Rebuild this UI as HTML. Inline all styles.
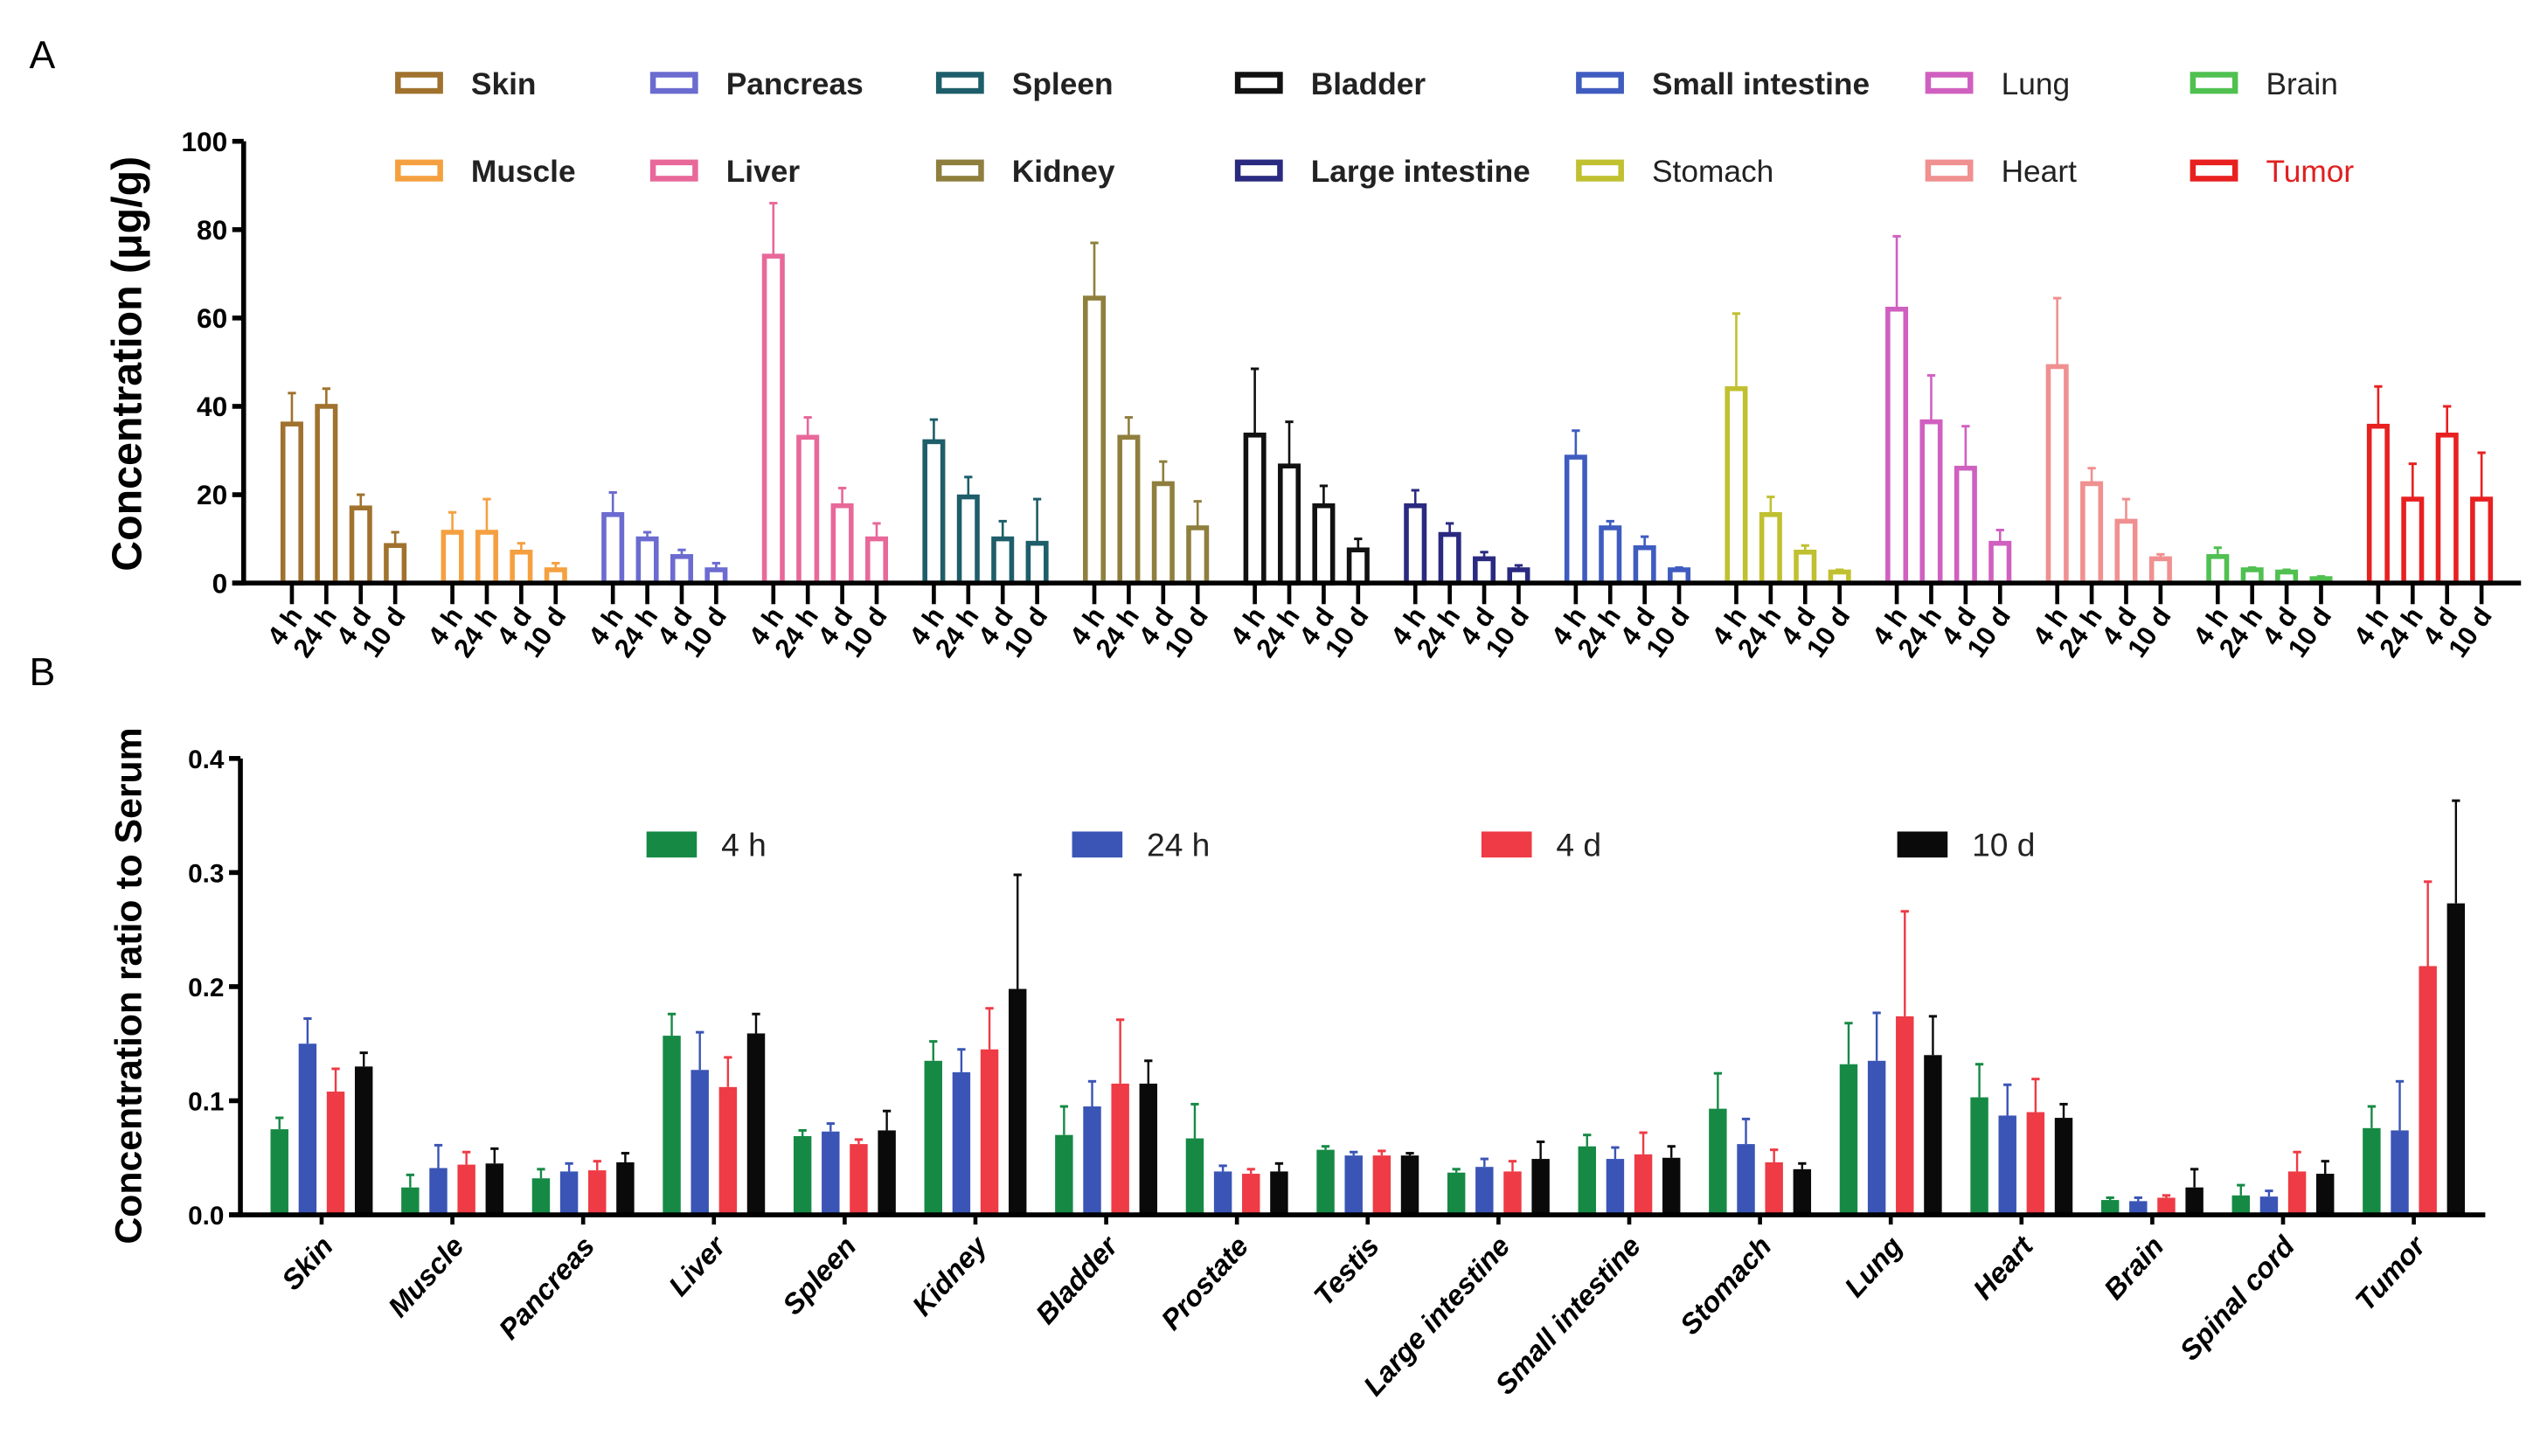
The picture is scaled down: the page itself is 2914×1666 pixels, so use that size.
<!DOCTYPE html>
<html><head><meta charset="utf-8"><style>
html,body{margin:0;padding:0;background:#fff;}
svg{display:block;}
text{font-family:"Liberation Sans",Arial,sans-serif;}
</style></head>
<body>
<svg id="chart" xmlns="http://www.w3.org/2000/svg" width="2914" height="1666" viewBox="0 0 1568 896.5" preserveAspectRatio="none">
<rect width="1568" height="896.5" fill="#fff"/>
<text x="18" y="42" font-size="24">A</text>
<text x="18" y="422" font-size="24">B</text>
<g id="pa"></g>
<g id="pb"></g>
</svg>
<script>
// ---------- Panel A data ----------
const organsA = ["Skin","Muscle","Pancreas","Liver","Spleen","Kidney","Bladder","Large intestine","Small intestine","Stomach","Lung","Heart","Brain","Tumor"];
const timesA = ["4 h","24 h","4 d","10 d"];
const meanA = [[36,40,17,8.5],[11.5,11.5,7,3],[15.5,10,6,3],[74,33,17.5,10],[32,19.5,10,9],[64.5,33,22.5,12.5],[33.5,26.5,17.5,7.5],[17.5,11,5.5,3],[28.5,12.5,8,3],[44,15.5,7,2.5],[62,36.5,26,9],[49,22.5,14,5.5],[6,3,2.5,1],[35.5,19,33.5,19]];
const errTopA = [[43,44,20,11.5],[16,19,9,4.5],[20.5,11.5,7.5,4.5],[86,37.5,21.5,13.5],[37,24,14,19],[77,37.5,27.5,18.5],[48.5,36.5,22,10],[21,13.5,7,4],[34.5,14,10.5,3.5],[61,19.5,8.5,3],[78.5,47,35.5,12],[64.5,26,19,6.5],[8,3.5,3,1.5],[44.5,27,40,29.5]];
const yTicksA = [0,20,40,60,80,100];
const colorsA = ["#a0722e","#f5a040","#6b6bd0","#e8689a","#1d5e6a","#8f7f3e","#111111","#2a2a80","#3f5cc0","#c0c030","#d060c0","#f09090","#50c050","#e82020"];
const legA = [["Skin",0,0,1],["Pancreas",2,0,1],["Spleen",4,0,1],["Bladder",6,0,1],["Small intestine",8,0,1],["Lung",10,0,0],["Brain",12,0,0],
              ["Muscle",1,1,1],["Liver",3,1,1],["Kidney",5,1,1],["Large intestine",7,1,1],["Stomach",9,1,0],["Heart",11,1,0],["Tumor",13,1,0]];
const legX = [245,402,578,762,972,1187,1350];

// ---------- Panel B data ----------
const organsB = ["Skin","Muscle","Pancreas","Liver","Spleen","Kidney","Bladder","Prostate","Testis","Large intestine","Small intestine","Stomach","Lung","Heart","Brain","Spinal cord","Tumor"];
const seriesB = ["4 h","24 h","4 d","10 d"];
const v4h  = [.075,.024,.032,.157,.069,.135,.070,.067,.057,.037,.060,.093,.132,.103,.013,.017,.076];
const v24h = [.150,.041,.038,.127,.073,.125,.095,.038,.052,.042,.049,.062,.135,.087,.012,.016,.074];
const v4d  = [.108,.044,.039,.112,.062,.145,.115,.036,.052,.038,.053,.046,.174,.090,.015,.038,.218];
const v10d = [.130,.045,.046,.159,.074,.198,.115,.038,.052,.049,.050,.040,.140,.085,.024,.036,.273];
const e4h  = [.085,.035,.040,.176,.074,.152,.095,.097,.060,.040,.070,.124,.168,.132,.015,.026,.095];
const e24h = [.172,.061,.045,.160,.080,.145,.117,.043,.055,.049,.059,.084,.177,.114,.015,.021,.117];
const e4d  = [.128,.055,.047,.138,.066,.181,.171,.040,.056,.047,.072,.057,.266,.119,.017,.055,.292];
const e10d = [.142,.058,.054,.176,.091,.298,.135,.045,.054,.064,.060,.045,.174,.097,.040,.047,.363];
const yTicksB = [0,0.1,0.2,0.3,0.4];
const colorsB = ["#168a45","#3a55b5","#ee3b45","#0a0a0a"];

const NS="http://www.w3.org/2000/svg";
function mk(parent,tag,attrs){const e=document.createElementNS(NS,tag);for(const k in attrs)e.setAttribute(k,attrs[k]);parent.appendChild(e);return e;}

// ----- Panel A -----
const pa=document.getElementById('pa');
const A={x0:150,x1:1552,y0:359,y1:87,vmax:100,g0:211.5,gs:98.8,bs:21.2,bw:11};
const yA=v=>A.y0-(v/A.vmax)*(A.y0-A.y1);
const xA=(g,t)=>A.g0+g*A.gs+(t-1.5)*A.bs;
organsA.forEach((org,g)=>{
  timesA.forEach((t,i)=>{
    const x=xA(g,i), c=colorsA[g];
    const et=mk(pa,'line',{x1:x,x2:x,y1:yA(meanA[g][i]),y2:yA(errTopA[g][i]),stroke:c,'stroke-width':1.4});
    
    
    const cap=mk(pa,'line',{x1:x-2.5,x2:x+2.5,y1:yA(errTopA[g][i]),y2:yA(errTopA[g][i]),stroke:c,'stroke-width':1.6});
    
    
    const b=mk(pa,'rect',{x:x-A.bw/2,y:yA(meanA[g][i]),width:A.bw,height:A.y0-yA(meanA[g][i]),fill:'#fff',stroke:c,'stroke-width':3});
    
    
    const tk=mk(pa,'line',{x1:x,x2:x,y1:A.y0,y2:A.y0+13,stroke:'#000','stroke-width':2.5});
    
    
    const tl=mk(pa,'text',{x:0,y:0,'font-size':16.5,'font-weight':'bold','text-anchor':'end',transform:`translate(${x+7},${A.y0+20}) rotate(-55)`});
    tl.textContent=t;
    
    
  });
});
{
  const ax=mk(pa,'line',{x1:A.x0,x2:A.x0,y1:A.y1,y2:A.y0+1.5,stroke:'#000','stroke-width':3});
  
  
  const xx=mk(pa,'line',{x1:A.x0-7,x2:A.x1,y1:A.y0,y2:A.y0,stroke:'#000','stroke-width':3});
  
  
  yTicksA.forEach(v=>{
    const l=mk(pa,'line',{x1:A.x0-7,x2:A.x0,y1:yA(v),y2:yA(v),stroke:'#000','stroke-width':3});
    
    
    const tx=mk(pa,'text',{x:A.x0-10,y:yA(v)+6,'font-size':17,'font-weight':'bold','text-anchor':'end'});
    tx.textContent=v;
    
    
  });
  const tt=mk(pa,'text',{x:0,y:0,'font-size':26,'font-weight':'bold','text-anchor':'middle',transform:'translate(87,224) rotate(-90)'});
  tt.textContent='Concentration (μg/g)';
  
  
  legA.forEach(([name,ci,row,bold],k)=>{
    const col=k<7?k:k-7, x=legX[col], y=row?106:52, c=colorsA[ci];
    const r=mk(pa,'rect',{x:x,y:y-6,width:26,height:10,fill:'#fff',stroke:c,'stroke-width':3.5});
    
    
    const tx=mk(pa,'text',{x:x+45,y:y+6,'font-size':19,'font-weight':bold?'bold':'normal',fill:name==='Tumor'?'#e02020':'#222'});
    tx.textContent=name;
    
    
  });
}

// ----- Panel B -----
const pb=document.getElementById('pb');
const B={x0:148,x1:1530,y0:748,y1:467,vmax:0.4,g0:198,gs:80.5,bs:17.3,bw:11};
const yB=v=>B.y0-(v/B.vmax)*(B.y0-B.y1);
const valsB=[v4h,v24h,v4d,v10d], errsB=[e4h,e24h,e4d,e10d];
organsB.forEach((org,g)=>{
  const cx=B.g0+g*B.gs;
  seriesB.forEach((s,i)=>{
    const x=cx+(i-1.5)*B.bs, c=colorsB[i], v=valsB[i][g], e=errsB[i][g];
    const el=mk(pb,'line',{x1:x,x2:x,y1:yB(v),y2:yB(e),stroke:c,'stroke-width':1.3});
    
    
    const cap=mk(pb,'line',{x1:x-2.5,x2:x+2.5,y1:yB(e),y2:yB(e),stroke:c,'stroke-width':1.6});
    
    
    const b=mk(pb,'rect',{x:x-B.bw/2,y:yB(v),width:B.bw,height:B.y0-yB(v),fill:c});
    
    
  });
  const tk=mk(pb,'line',{x1:cx,x2:cx,y1:B.y0,y2:B.y0+6,stroke:'#000','stroke-width':2.5});
  
  
  const tl=mk(pb,'text',{x:0,y:0,'font-size':17.5,'font-weight':'bold','font-style':'italic','text-anchor':'end',transform:`translate(${cx+8},${B.y0+20}) rotate(-48)`});
  tl.textContent=org;
  
  
});
{
  const ax=mk(pb,'line',{x1:B.x0,x2:B.x0,y1:B.y1,y2:B.y0+1.5,stroke:'#000','stroke-width':3});
  
  
  const xx=mk(pb,'line',{x1:B.x0-7,x2:B.x1,y1:B.y0,y2:B.y0,stroke:'#000','stroke-width':3});
  
  
  yTicksB.forEach(v=>{
    const l=mk(pb,'line',{x1:B.x0-7,x2:B.x0,y1:yB(v),y2:yB(v),stroke:'#000','stroke-width':3});
    
    
    const tx=mk(pb,'text',{x:B.x0-10,y:yB(v)+6,'font-size':16,'font-weight':'bold','text-anchor':'end'});
    tx.textContent=v.toFixed(1);
    
    
  });
  const tt=mk(pb,'text',{x:0,y:0,'font-size':23,'font-weight':'bold','text-anchor':'middle',transform:'translate(87,607) rotate(-90)'});
  tt.textContent='Concentration ratio to Serum';
  
  
  const lx=[398,660,912,1168];
  seriesB.forEach((s,i)=>{
    const r=mk(pb,'rect',{x:lx[i],y:512,width:31,height:16,fill:colorsB[i]});
    
    
    const tx=mk(pb,'text',{x:lx[i]+46,y:527,'font-size':20,fill:'#222'});
    tx.textContent=s;
    
    
  });
}
</script>
</body></html>
